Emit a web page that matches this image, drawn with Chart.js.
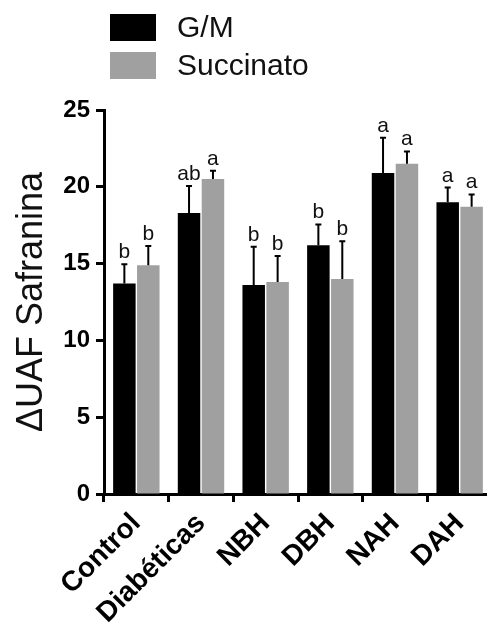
<!DOCTYPE html>
<html>
<head>
<meta charset="utf-8">
<script src="https://cdn.jsdelivr.net/npm/chart.js@4"></script>
<style>
  body { margin: 0; background: #fff; font-family: 'Liberation Sans', Arial, sans-serif; }
  #wrap { position: relative; width: 487px; height: 629px; overflow: hidden; }
  #myChart { position: absolute; left: 0; top: 0; }
  #legend { position: absolute; left: 110px; top: 8px; }
  .item { display: flex; align-items: center; height: 38px; }
  .box { width: 46px; height: 27px; margin-right: 21px; }
  .item span { font-size: 30px; color: #111; }
</style>
</head>
<body>
<div id="wrap">
  <canvas id="myChart" width="492" height="629"></canvas>
  <div id="legend">
    <div class="item"><div class="box" style="background:#000"></div><span>G/M</span></div>
    <div class="item"><div class="box" style="background:#a0a0a0"></div><span>Succinato</span></div>
  </div>
</div>
<script>
  const labels = ['Control', 'Diabéticas', 'NBH', 'DBH', 'NAH', 'DAH'];
  const gmValues = [13.7, 18.3, 13.6, 16.2, 20.9, 19.0];
  const gmErrors = [1.25, 1.75, 2.5, 1.35, 2.3, 0.95];
  const gmLetters = ['b', 'ab', 'b', 'b', 'a', 'a'];
  const succValues = [14.9, 20.5, 13.8, 14.0, 21.5, 18.7];
  const succErrors = [1.25, 0.55, 1.7, 2.45, 0.8, 0.8];
  const succLetters = ['b', 'a', 'b', 'b', 'a', 'a'];
  const yTicks = [0, 5, 10, 15, 20, 25];

  const errors = [gmErrors, succErrors];
  const letters = [gmLetters, succLetters];

  // error bars (upper only) and significance letters
  const errorBars = {
    id: 'errorBars',
    afterDatasetsDraw(chart) {
      const ctx = chart.ctx;
      const yScale = chart.scales.y;
      ctx.save();
      chart.data.datasets.forEach((ds, i) => {
        const meta = chart.getDatasetMeta(i);
        meta.data.forEach((bar, j) => {
          const top = yScale.getPixelForValue(ds.data[j] + errors[i][j]);
          ctx.strokeStyle = '#000';
          ctx.lineWidth = 2;
          ctx.beginPath();
          ctx.moveTo(bar.x, bar.y);
          ctx.lineTo(bar.x, top);
          ctx.moveTo(bar.x - 3, top);
          ctx.lineTo(bar.x + 3, top);
          ctx.stroke();
          ctx.fillStyle = '#111';
          ctx.font = '21px "Liberation Sans", Arial, sans-serif';
          ctx.textAlign = 'center';
          ctx.textBaseline = 'alphabetic';
          ctx.fillText(letters[i][j], bar.x, top - 6);
        });
      });
      ctx.restore();
    }
  };

  const data = {
    labels: labels,
    datasets: [{
      label: 'G/M',
      backgroundColor: '#000000',
      data: gmValues,
      barPercentage: 0.94,
      categoryPercentage: 0.74
    }, {
      label: 'Succinato',
      backgroundColor: '#a0a0a0',
      data: succValues,
      barPercentage: 0.94,
      categoryPercentage: 0.74
    }]
  };

  const config = {
    type: 'bar',
    data: data,
    plugins: [errorBars],
    options: {
      responsive: false,
      animation: false,
      layout: { padding: { top: 110, left: 0, right: 0, bottom: 0 } },
      plugins: {
        legend: { display: false },
        tooltip: { enabled: false }
      },
      scales: {
        x: {
          afterFit(scale) { scale.height = 135; },
          border: { display: true, color: '#000', width: 3 },
          grid: { drawOnChartArea: false, drawTicks: true, tickLength: 8, tickWidth: 3, tickColor: '#000' },
          ticks: {
            color: '#000',
            minRotation: 45,
            maxRotation: 45,
            padding: 5,
            font: { family: '"Liberation Sans", Arial, sans-serif', size: 28, weight: 'bold' }
          }
        },
        y: {
          min: 0,
          max: 25,
          afterFit(scale) { scale.width = 104; },
          afterBuildTicks(scale) { scale.ticks = yTicks.map(v => ({ value: v })); },
          border: { display: true, color: '#000', width: 3 },
          grid: { drawOnChartArea: false, drawTicks: true, tickLength: 8, tickWidth: 3, tickColor: '#000' },
          ticks: {
            color: '#000',
            padding: 6,
            font: { family: '"Liberation Sans", Arial, sans-serif', size: 24, weight: 'bold' }
          },
          title: {
            display: true,
            text: 'ΔUAF Safranina',
            color: '#111',
            padding: { top: 10, bottom: 0 },
            font: { family: '"Liberation Sans", Arial, sans-serif', size: 36 }
          }
        }
      }
    }
  };

  const myChart = new Chart(document.getElementById('myChart'), config);
</script>
</body>
</html>
